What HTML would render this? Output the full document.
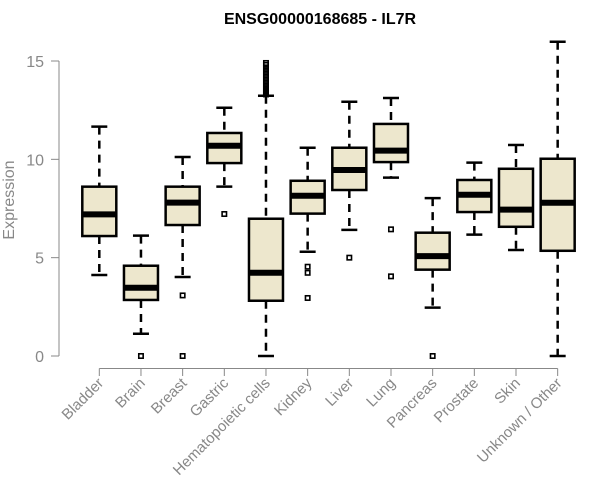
<!DOCTYPE html>
<html><head><meta charset="utf-8"><style>
body{margin:0;background:#fff;}
svg{display:block;font-family:"Liberation Sans",Arial,sans-serif;}
</style></head><body>
<svg id="chart" width="600" height="500">
<text x="320" y="24" text-anchor="middle" font-weight="bold" font-size="16">ENSG00000168685 - IL7R</text>
<text transform="translate(14,200) rotate(-90)" text-anchor="middle" font-size="16" fill="#888">Expression</text>
<g id="axes"></g><g id="boxes"></g>
</svg>
<script>
const categories=["Bladder","Brain","Breast","Gastric","Hematopoietic cells","Kidney","Liver","Lung","Pancreas","Prostate","Skin","Unknown / Other"];
const lowWhisker=[4.12,1.13,4.02,8.61,0,5.3,6.41,9.07,2.46,6.17,5.39,0];
const q1=[6.1,2.85,6.66,9.81,2.81,7.24,8.44,9.86,4.39,7.32,6.57,5.35];
const medians=[7.2,3.47,7.8,10.69,4.23,8.15,9.46,10.44,5.08,8.2,7.44,7.79];
const q3=[8.61,4.59,8.61,11.34,6.98,8.91,10.59,11.8,6.27,8.95,9.52,10.03];
const highWhisker=[11.66,6.12,10.12,12.62,13.23,10.59,12.93,13.12,8.03,9.83,10.73,15.98];
const outliers=[[],[0],[3.08,0],[7.22],[13.3,13.45,13.6,13.75,13.9,14.05,14.2,14.35,14.5,14.65,14.8,14.9],[4.54,4.23,2.95],[5.0],[6.44,4.05],[0],[],[],[]];
const yTicks=[0,5,10,15];
const NS="http://www.w3.org/2000/svg";
const y=v=>356-v*(295/15);
const x=i=>99.3+i*41.67;
function mk(tag,attrs,parent){const e=document.createElementNS(NS,tag);for(const k in attrs)e.setAttribute(k,attrs[k]);parent.appendChild(e);return e;}
const ax=document.getElementById('axes'),bx=document.getElementById('boxes');
let l=mk('line',{x1:59,x2:59,y1:y(15),y2:y(0),stroke:'#888'},ax);


yTicks.forEach(t=>{
 const tk=mk('line',{x1:51,x2:59,y1:y(t),y2:y(t),stroke:'#888'},ax);
 
 
 const tx=mk('text',{x:44,y:y(t)+6,'text-anchor':'end','font-size':16,fill:'#888'},ax);
 tx.textContent=t;
 
 
});
l=mk('line',{x1:x(0),x2:x(11),y1:368.5,y2:368.5,stroke:'#888'},ax);


categories.forEach((c,i)=>{
 const tk=mk('line',{x1:x(i),x2:x(i),y1:368.5,y2:376,stroke:'#888'},ax);
 
 
 const tx=mk('text',{'text-anchor':'end','font-size':15,fill:'#888',transform:`translate(${x(i)+5},${384}) rotate(-45)`},ax);
 tx.textContent=c;
 
 
 const g=mk('g',{},bx);
 
 
 const cx=x(i);
 mk('line',{x1:cx,x2:cx,y1:y(highWhisker[i]),y2:y(q3[i]),stroke:'#000','stroke-width':2.5,'stroke-dasharray':'8,6'},g);
 mk('line',{x1:cx,x2:cx,y1:y(q1[i]),y2:y(lowWhisker[i]),stroke:'#000','stroke-width':2.5,'stroke-dasharray':'8,6'},g);
 mk('line',{x1:cx-8,x2:cx+8,y1:y(highWhisker[i]),y2:y(highWhisker[i]),stroke:'#000','stroke-width':2.5},g);
 mk('line',{x1:cx-8,x2:cx+8,y1:y(lowWhisker[i]),y2:y(lowWhisker[i]),stroke:'#000','stroke-width':2.5},g);
 mk('rect',{x:cx-17,y:y(q3[i]),width:34,height:y(q1[i])-y(q3[i]),fill:'#EDE7CD',stroke:'#000','stroke-width':2.5},g);
 mk('line',{x1:cx-17,x2:cx+17,y1:y(medians[i]),y2:y(medians[i]),stroke:'#000','stroke-width':6},g);
 outliers[i].forEach(o=>{
  const p=mk('rect',{x:cx-2.2,y:y(o)-2.2,width:4.4,height:4.4,fill:'none',stroke:'#000','stroke-width':1.6},g);
  
  
 });
});
</script>
</body></html>
